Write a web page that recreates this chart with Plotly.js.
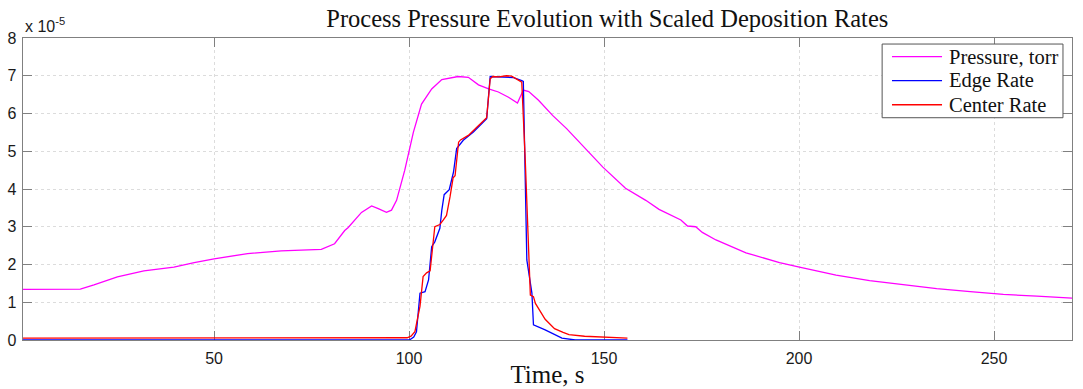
<!DOCTYPE html>
<html>
<head>
<meta charset="utf-8">
<script src="https://cdn.plot.ly/plotly-3.0.1.min.js"></script>
<style>html,body{margin:0;padding:0;background:#fff;}#chart{width:1083px;height:389px;}</style>
</head>
<body>
<div id="chart"></div>
<script>
// Values are in units of 1e-5 (axis multiplier shown as "x 10^-5")
const pressureTime = [1, 10, 15.7, 19.2, 25.2, 32, 39.7, 44.9, 50, 58.6, 67.2, 77.5, 80.9, 83.5, 84.4, 87.8, 90.4, 92.1, 94.2, 95.5, 96.8, 98.9, 101.1, 103.2, 105.8, 108.4, 112.6, 115.2, 117.8, 120.4, 122.9, 125.5, 127.8, 129.3, 130.7, 133.2, 136.8, 140.4, 144.8, 149.7, 155.5, 160.7, 164.1, 169.7, 171.4, 173.5, 175.2, 178.7, 186.4, 195, 200.1, 209.5, 218.1, 226.7, 235.3, 243.9, 252.4, 261, 270];
const pressure = [1.34, 1.34, 1.35, 1.46, 1.67, 1.83, 1.93, 2.05, 2.15, 2.29, 2.36, 2.40, 2.55, 2.90, 2.98, 3.38, 3.55, 3.48, 3.38, 3.44, 3.70, 4.5, 5.5, 6.25, 6.65, 6.9, 6.98, 6.96, 6.76, 6.65, 6.57, 6.43, 6.28, 6.62, 6.58, 6.35, 5.95, 5.6, 5.12, 4.58, 4.02, 3.70, 3.46, 3.18, 3.02, 3.00, 2.85, 2.65, 2.31, 2.05, 1.93, 1.72, 1.57, 1.46, 1.36, 1.28, 1.21, 1.16, 1.11];

const edgeTime = [1, 100.1, 101.2, 101.9, 102.8, 104.1, 105, 105.8, 106.6, 107.9, 108.4, 109.0, 110.3, 111.4, 112.2, 113.9, 116.5, 119.9, 120.8, 123.8, 126.8, 128.9, 129.3, 130.2, 131.5, 131.9, 134.9, 139.2, 142.6, 156];
const edgeRate = [0, 0, 0.08, 0.22, 1.24, 1.28, 1.59, 2.47, 2.60, 2.96, 3.44, 3.85, 3.98, 4.45, 5.07, 5.29, 5.51, 5.86, 6.98, 6.97, 6.95, 6.87, 6.85, 2.12, 1.24, 0.40, 0.27, 0.05, 0, 0];

const centerTime = [1, 99.5, 100.5, 101.5, 102.8, 103.6, 104.5, 105.4, 106.6, 107.9, 108.8, 109.6, 110.5, 111.3, 111.8, 112.7, 113.2, 115.2, 117.5, 119.9, 120.8, 121.5, 123, 125, 126.3, 127.6, 128.9, 129.8, 131.1, 131.9, 132.4, 134.9, 137.3, 139.5, 141, 145, 149.5, 156];
const centerRate = [0.05, 0.06, 0.1, 0.22, 0.89, 1.68, 1.78, 1.83, 3.0, 3.06, 3.18, 3.3, 3.79, 4.3, 4.35, 5.24, 5.3, 5.42, 5.65, 5.89, 6.92, 6.98, 6.97, 7.0, 6.99, 6.92, 6.83, 4.76, 1.19, 1.15, 0.97, 0.55, 0.3, 0.2, 0.14, 0.1, 0.08, 0.05];

const xTicks = [50, 100, 150, 200, 250];
const yTicks = [0, 1, 2, 3, 4, 5, 6, 7, 8];

const seriesNames = ['Pressure, torr', 'Edge Rate', 'Center Rate'];
const seriesColors = ['#ff00ff', '#0000ff', '#ff0000'];
const titleText = 'Process Pressure Evolution with Scaled Deposition Rates';

const serif = 'Liberation Serif, DejaVu Serif, serif';
const sans = 'Liberation Sans, Arial, sans-serif';

const xs = [pressureTime, edgeTime, centerTime];
const ys = [pressure, edgeRate, centerRate];
const traces = seriesNames.map((n, i) => ({
  x: xs[i], y: ys[i], name: n, mode: 'lines', showlegend: false,
  line: {color: seriesColors[i], width: 1.3}
}));

const axisCommon = {
  showline: true, mirror: 'ticks', linecolor: '#808080', linewidth: 1.3,
  ticks: 'inside', ticklen: 9, tickcolor: '#808080', tickwidth: 1,
  showgrid: true, gridcolor: '#dcdcdc', griddash: 'dot', gridwidth: 1,
  zeroline: false, layer: 'below traces',
  tickfont: {family: sans, size: 16, color: '#1a1a1a'}
};

// Legend box (drawn in paper coordinates of the plot area)
const legBox = {x0: 0.819, x1: 0.9914, y0: 0.736, y1: 0.98};
const legLineX = [0.8284, 0.8761];
const legTextX = 0.8818;
const legRowsY = [0.938, 0.859, 0.779];

const shapes = [{type: 'rect', xref: 'paper', yref: 'paper', x0: legBox.x0, x1: legBox.x1, y0: legBox.y0, y1: legBox.y1,
  fillcolor: '#ffffff', line: {color: '#555555', width: 1}, layer: 'above'}];
const annotations = [{xref: 'paper', yref: 'paper', x: 0, y: 1, xanchor: 'left', yanchor: 'bottom', yshift: 1, showarrow: false,
  text: 'x 10<sup>-5</sup>', font: {family: sans, size: 16, color: '#1a1a1a'}}];
seriesNames.forEach((n, i) => {
  shapes.push({type: 'line', xref: 'paper', yref: 'paper', x0: legLineX[0], x1: legLineX[1], y0: legRowsY[i], y1: legRowsY[i],
    line: {color: seriesColors[i], width: 1.3}, layer: 'above'});
  annotations.push({xref: 'paper', yref: 'paper', x: legTextX, y: legRowsY[i], xanchor: 'left', yanchor: 'middle', showarrow: false,
    text: n, font: {family: serif, size: 20.5, color: '#111'}, borderpad: 0});
});

const layout = {
  width: 1083, height: 389,
  margin: {l: 23, r: 11, t: 38, b: 49},
  paper_bgcolor: '#ffffff', plot_bgcolor: '#ffffff',
  title: {text: titleText, font: {family: serif, size: 24.5, color: '#111'}, x: 0.557, xanchor: 'center', y: 0.953, yanchor: 'middle', xref: 'paper'},
  xaxis: Object.assign({}, axisCommon, {range: [1, 270], tickvals: xTicks, ticklabelstandoff: 3,
    title: {text: 'Time, s', font: {family: serif, size: 25, color: '#111'}, standoff: 0}}),
  yaxis: Object.assign({}, axisCommon, {range: [0, 8], tickvals: yTicks, ticklabelstandoff: 2}),
  showlegend: false,
  shapes: shapes,
  annotations: annotations
};

Plotly.newPlot('chart', traces, layout, {displayModeBar: false, staticPlot: true});
</script>
</body>
</html>
